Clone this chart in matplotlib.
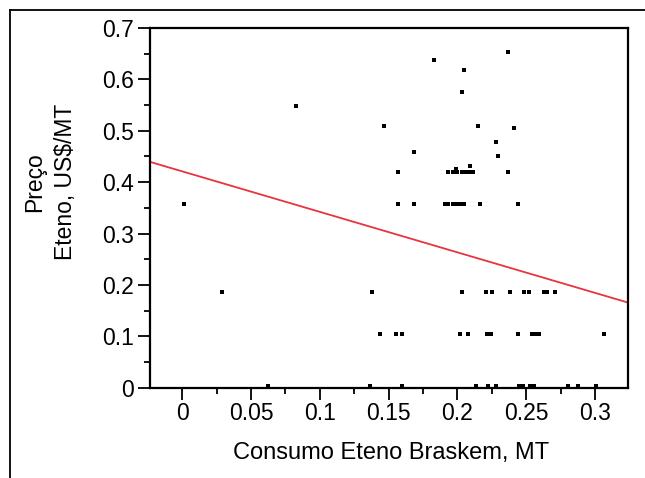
import numpy as np
import matplotlib
matplotlib.use('Agg')
import matplotlib.pyplot as plt
from matplotlib.lines import Line2D
from matplotlib.ticker import MultipleLocator, FormatStrFormatter

plt.rcParams['font.family'] = ['Liberation Sans', 'DejaVu Sans']

# consumo (x) e preco (y)
consumo = [0.0826, 0.2368, 0.183, 0.2048, 0.2034, 0.1466, 0.2150, 0.2412,
           0.228, 0.1684, 0.2295, 0.209, 0.199,
           # linha ~0.42
           0.1568, 0.193, 0.1965, 0.200, 0.203, 0.206, 0.2095, 0.2115, 0.2368,
           # linha ~0.357
           0.0012, 0.1568, 0.1684, 0.191, 0.1935, 0.197, 0.1995, 0.202, 0.205,
           0.2164, 0.244,
           # linha ~0.187
           0.0289, 0.1379, 0.2034, 0.2208, 0.2251, 0.2382, 0.2481, 0.2517,
           0.2626, 0.2648, 0.271,
           # linha ~0.1045
           0.1437, 0.1553, 0.1597, 0.202, 0.2077, 0.2215, 0.2245, 0.244,
           0.2545, 0.2575, 0.2595, 0.3065,
           # linha ~0
           0.0623, 0.1365, 0.1597, 0.2135, 0.2222, 0.228, 0.245, 0.248,
           0.2527, 0.2557, 0.2804, 0.2877, 0.3007]
preco = [0.548, 0.654, 0.638, 0.618, 0.576, 0.509, 0.509, 0.505,
         0.478, 0.459, 0.451, 0.431, 0.425,
         0.42, 0.42, 0.42, 0.42, 0.42, 0.42, 0.42, 0.42, 0.42,
         0.357, 0.357, 0.357, 0.357, 0.357, 0.357, 0.357, 0.357, 0.357,
         0.357, 0.357,
         0.187, 0.187, 0.187, 0.187, 0.187, 0.187, 0.187, 0.187,
         0.187, 0.187, 0.187,
         0.1045, 0.1045, 0.1045, 0.1045, 0.1045, 0.1045, 0.1045, 0.1045,
         0.1045, 0.1045, 0.1045, 0.1045,
         0.004, 0.004, 0.004, 0.004, 0.004, 0.004, 0.004, 0.004,
         0.004, 0.004, 0.004, 0.004, 0.004]

# reta ajustada
intercepto = 0.421
inclinacao = -0.788

xlim = (-0.0238, 0.3238)
ylim = (0, 0.7)


def main():
    fig = plt.figure(figsize=(6.45, 4.78), dpi=100)
    W, H = 645.0, 478.0
    ax = fig.add_axes([149.5 / W, 1 - 387.7 / H, (627.7 - 149.5) / W, (387.7 - 28) / H])

    xs = np.array(xlim)
    ax.plot(xs, intercepto + inclinacao * xs, color='#e8343f', lw=1.3, zorder=2)
    ax.plot(consumo, preco, 's', color='black', ms=2.5, mew=0, clip_on=False, zorder=3)

    ax.set_xlim(*xlim)
    ax.set_ylim(*ylim)
    ax.xaxis.set_major_locator(MultipleLocator(0.05))
    ax.xaxis.set_minor_locator(MultipleLocator(0.025))
    ax.yaxis.set_major_locator(MultipleLocator(0.1))
    ax.yaxis.set_minor_locator(MultipleLocator(0.05))
    ax.xaxis.set_major_formatter(FormatStrFormatter('%g'))
    ax.yaxis.set_major_formatter(FormatStrFormatter('%g'))

    for s in ax.spines.values():
        s.set_linewidth(1.6)
    ax.tick_params(which='major', direction='out', length=8.5, width=1.3, labelsize=16.5)
    ax.tick_params(axis='x', which='major', pad=2)
    ax.tick_params(axis='y', which='major', pad=2.5)
    ax.tick_params(which='minor', direction='out', length=4.3, width=1.3)

    fig.text(391 / W, 1 - 453 / H, 'Consumo Eteno Braskem, MT', ha='center', va='center', fontsize=17)
    fig.text(50 / W, 1 - 182 / H, 'Preço\nEteno, US$/MT', ha='center', va='center',
             rotation=90, multialignment='center', fontsize=16.5, linespacing=1.45)

    # moldura externa
    fig.add_artist(Line2D([10 / W, 1.0], [1 - 10 / H, 1 - 10 / H], color='black', lw=1.3))
    fig.add_artist(Line2D([10 / W, 10 / W], [0.0, 1 - 10 / H], color='black', lw=1.3))

    plt.savefig('out.png', dpi=100)


if __name__ == '__main__':
    main()
